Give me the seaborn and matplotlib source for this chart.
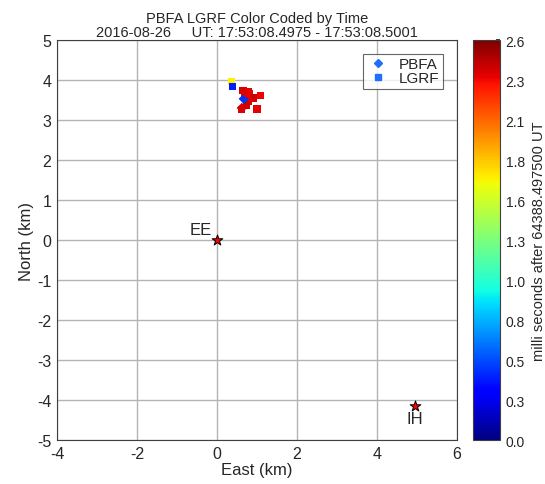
import matplotlib
matplotlib.use("Agg")
import matplotlib.pyplot as plt
import numpy as np
import pandas as pd
import seaborn as sns
from matplotlib.cm import ScalarMappable
from matplotlib.colors import Normalize
from matplotlib.lines import Line2D

# sources located in the flash (east km, north km, time ms)
lgrf_east = [0.36, 0.39, 0.65, 0.79, 0.82, 1.08, 0.92, 0.78, 0.73, 1.00, 0.61, 0.70]
lgrf_north = [3.97, 3.84, 3.74, 3.71, 3.65, 3.62, 3.55, 3.48, 3.38, 3.28, 3.26, 3.60]
lgrf_time = [1.70, 0.40, 2.40, 2.38, 2.36, 2.35, 2.42, 2.38, 2.42, 2.36, 2.40, 2.38]

pbfa_east = [0.67, 0.74, 0.62]
pbfa_north = [3.53, 3.67, 3.30]
pbfa_time = [0.45, 2.38, 2.40]

# stations
station_names = ["EE", "IH"]
station_east = [0.0, 4.95]
station_north = [0.0, -4.15]

cbar_ticks = [0.0, 0.26, 0.52, 0.78, 1.04, 1.30, 1.56, 1.82, 2.08, 2.34, 2.60]
tmax = 2.6

sns.set_theme(style="whitegrid")
plt.rcParams["font.family"] = ["Liberation Sans", "DejaVu Sans"]
plt.rcParams["axes.unicode_minus"] = False

df = pd.DataFrame({
    "east": lgrf_east + pbfa_east,
    "north": lgrf_north + pbfa_north,
    "time": lgrf_time + pbfa_time,
    "sensor": ["LGRF"] * len(lgrf_east) + ["PBFA"] * len(pbfa_east),
})

fig = plt.figure(figsize=(5.45, 4.85), dpi=100)
ax = fig.add_axes([0.1046, 0.0907, 0.734, 0.8247])
cax = fig.add_axes([0.868, 0.0907, 0.0495, 0.8247])

jet = matplotlib.colormaps["jet"]
norm = Normalize(0, tmax)
sns.scatterplot(
    data=df, x="east", y="north", hue="time", style="sensor",
    markers={"LGRF": "s", "PBFA": "D"}, palette=jet, hue_norm=norm,
    s=28, linewidth=0, legend=False, ax=ax, zorder=3,
)

ax.scatter(station_east, station_north, marker="*", s=65, c="red",
           edgecolors="black", linewidths=0.7, zorder=4)
ax.text(station_east[0] - 0.12, station_north[0] + 0.08, station_names[0],
        ha="right", va="bottom", fontsize=12)
ax.text(station_east[1], station_north[1] - 0.12, station_names[1],
        ha="center", va="top", fontsize=12)

ax.set_xlim(-4, 6)
ax.set_ylim(-5, 5)
ax.set_xticks(np.arange(-4, 7, 2))
ax.set_yticks(np.arange(-5, 6, 1))
ax.set_facecolor("white")
ax.grid(True, color="#b4b4b4", linewidth=1.0)
for sp in ax.spines.values():
    sp.set_visible(True)
    sp.set_color("#404040")
    sp.set_linewidth(0.8)
ax.tick_params(direction="in", length=4, color="#404040", labelsize=11.5, pad=4)
ax.set_xlabel("East (km)", fontsize=12, labelpad=1)
ax.set_ylabel("North (km)", fontsize=12, labelpad=2)
ax.set_title("PBFA LGRF Color Coded by Time\n2016-08-26     UT: 17:53:08.4975 - 17:53:08.5001",
             fontsize=10.5, linespacing=1.0, pad=3)

handles = [
    Line2D([], [], marker="D", color="#1f6fff", linestyle="none", markersize=4.5, label="PBFA"),
    Line2D([], [], marker="s", color="#1f6fff", linestyle="none", markersize=4.5, label="LGRF"),
]
leg = ax.legend(handles=handles, loc="upper right", fontsize=11, frameon=True,
                fancybox=False, edgecolor="#404040", handletextpad=0.6,
                borderpad=0.25, labelspacing=0.0, handlelength=1.5,
                bbox_to_anchor=(0.985, 0.985))
leg.get_frame().set_linewidth(0.8)

sm = ScalarMappable(norm=norm, cmap=jet)
cb = fig.colorbar(sm, cax=cax)
cb.set_ticks(cbar_ticks)
cb.set_ticklabels([f"{t:.1f}" for t in cbar_ticks])
cb.ax.tick_params(labelsize=10, length=3, direction="in", pad=4)
cb.outline.set_edgecolor("#404040")
cb.outline.set_linewidth(0.8)
cb.set_label("milli seconds after 64388.497500 UT", fontsize=10.5, labelpad=5)
cax.grid(False)

fig.savefig("out.png", dpi=100)
